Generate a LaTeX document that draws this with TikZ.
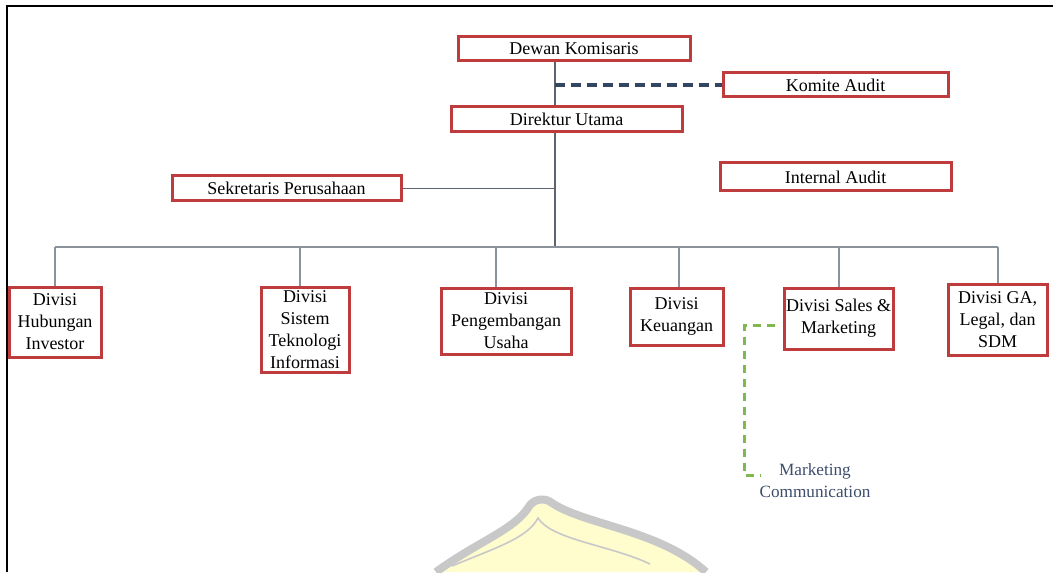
\documentclass[tikz,border=0pt]{standalone}
\usepackage{fontspec}
\setmainfont{Liberation Serif}
\usetikzlibrary{backgrounds}
\definecolor{boxred}{RGB}{190,60,62}
\definecolor{linkgray}{RGB}{92,100,112}
\definecolor{busgray}{RGB}{140,146,154}
\definecolor{navydash}{RGB}{52,70,98}
\definecolor{greendash}{RGB}{128,184,80}
\definecolor{notecol}{RGB}{60,76,108}
\definecolor{domefill}{RGB}{255,252,206}
\definecolor{domeline}{RGB}{200,200,200}
\tikzset{
  orgbox/.style={draw=boxred, line width=1.5pt, fill=white, inner sep=0pt,
    align=center, font=\fontsize{9}{11}\selectfont},
  trunk/.style={draw=linkgray, line width=0.55pt},
  bus/.style={draw=busgray, line width=1.1pt},
  drop/.style={draw=busgray, line width=0.55pt},
  auditlink/.style={draw=navydash, line width=2pt, dash pattern=on 5pt off 3pt},
  mclink/.style={draw=greendash, line width=1.5pt, dash pattern=on 4pt off 3pt},
  note/.style={text=notecol, align=center, inner sep=0pt, font=\fontsize{8.6}{11}\selectfont}
}
\begin{document}
\begin{tikzpicture}[x=0.5pt,y=-0.5pt]
\useasboundingbox (0,0) rectangle (1053,572);

% faint emblem in the lower middle
\fill[domefill] (436,572) .. controls (480,540) and (515,530) .. (530,505)
  .. controls (536,498) and (546,498) .. (552,503)
  .. controls (585,525) and (660,530) .. (706,572) -- cycle;
\draw[domeline, line width=4pt] (436,572) .. controls (480,540) and (515,530) .. (530,505)
  .. controls (536,498) and (546,498) .. (552,503)
  .. controls (585,525) and (660,530) .. (706,572);
\draw[domeline, line width=0.8pt] (452,566) .. controls (495,548) and (528,538) .. (538,518)
  .. controls (552,540) and (610,545) .. (650,564);

% outer frame
\draw[black, line width=1pt] (7,572) -- (7,6) -- (1053,6);

% boards and directors
\node[orgbox, minimum width=116pt, minimum height=12pt] (dewan) at (574,49) {Dewan Komisaris};
\node[orgbox, minimum width=112.5pt, minimum height=12pt] (komite) at (835.5,85) {Komite Audit};
\node[orgbox, minimum width=115.5pt, minimum height=12.5pt] (direktur) at (566.5,119.5) {Direktur Utama};
\node[orgbox, minimum width=114.5pt, minimum height=12.5pt] (sekretaris) at (286.5,188.5) {Sekretaris Perusahaan};
\node[orgbox, minimum width=115.5pt, minimum height=14pt] (internal) at (835.5,177) {Internal Audit};

% divisions
\node[orgbox, minimum width=46pt, minimum height=35pt] (hubungan) at (55,322) {Divisi\\Hubungan\\Investor};
\node[orgbox, minimum width=44pt, minimum height=42.5pt] (sistem) at (305,329.5) {Divisi\\Sistem\\Teknologi\\Informasi};
\node[orgbox, minimum width=65pt, minimum height=33pt] (usaha) at (506,321) {Divisi\\Pengembangan\\Usaha};
\node[orgbox, minimum width=46.5pt, minimum height=28.5pt] (keuangan) at (676.5,316.5) {Divisi\\Keuangan};
\node[orgbox, minimum width=54.5pt, minimum height=30.5pt] (sales) at (838.5,318.5) {Divisi Sales \&\\Marketing};
\node[orgbox, minimum width=49.5pt, minimum height=35.5pt] (ga) at (997.5,319.5) {Divisi GA,\\Legal, dan\\SDM};

\node[note] (mc) at (815,481) {Marketing\\Communication};

% junction points
\coordinate (kjoin) at (555,85);
\coordinate (hub) at (555,247);
\coordinate (d1) at (55,247);
\coordinate (d2) at (300,247);
\coordinate (d3) at (496,247);
\coordinate (d4) at (679,247);
\coordinate (d5) at (839,247);
\coordinate (d6) at (998,247);
\coordinate (g1) at (744,325);
\coordinate (g2) at (744,475);
\coordinate (g3) at (760,475);

\begin{scope}[on background layer]
  \draw[trunk] (dewan.south -| hub) -- (hub);
  \draw[trunk] (sekretaris.east) -- (sekretaris.east -| hub);
  \draw[bus] (d1) -- (d6);
  \draw[drop] (d1) -- (d1 |- hubungan.north);
  \draw[drop] (d2) -- (d2 |- sistem.north);
  \draw[drop] (d3) -- (d3 |- usaha.north);
  \draw[drop] (d4) -- (d4 |- keuangan.north);
  \draw[drop] (d5) -- (d5 |- sales.north);
  \draw[drop] (d6) -- (d6 |- ga.north);
\end{scope}
\draw[auditlink] (kjoin) -- (komite.west);
\draw[mclink] ([xshift=-4pt]sales.west |- g1) -- (g1) -- (g2) -- (g3);
\end{tikzpicture}
\end{document}
